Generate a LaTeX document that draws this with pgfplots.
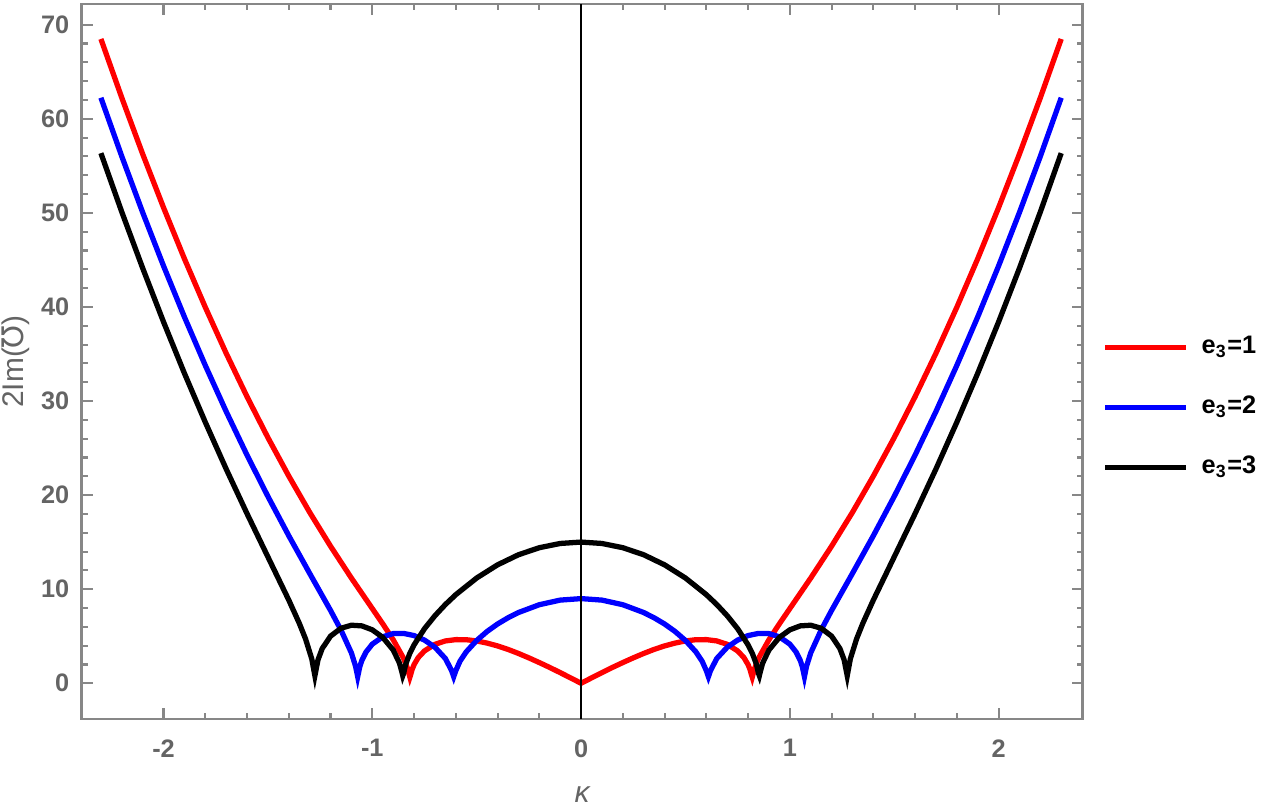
\documentclass[border=0pt]{standalone}
\usepackage{fontspec}
\setmainfont{Liberation Sans}
\newfontfamily\dejavu{DejaVu Sans}
\usepackage{pgfplots}
\usepackage{pgfplotstable}
\pgfplotsset{compat=1.18}
\definecolor{framegray}{RGB}{135,135,135}
\definecolor{labelgray}{RGB}{100,100,100}

% e3 = 1
\pgfplotstableread{
k v
-2.3 68.49
-2.2 62.24
-2.1 56.26
-2.0 50.56
-1.9 45.13
-1.8 39.97
-1.7 35.08
-1.6 30.46
-1.5 26.11
-1.4 22.02
-1.3 18.17
-1.2 14.57
-1.1 11.18
-1.0 7.94
-0.95 6.32
-0.9 4.63
-0.85 2.65
-0.83 1.50
-0.825 1.06
-0.82 0.65
-0.815 1.00
-0.81 1.42
-0.8 1.98
-0.78 2.73
-0.75 3.44
-0.7 4.14
-0.65 4.50
-0.6 4.64
-0.55 4.63
-0.5 4.50
-0.45 4.27
-0.4 3.97
-0.35 3.60
-0.3 3.17
-0.25 2.70
-0.2 2.20
-0.15 1.68
-0.1 1.13
-0.05 0.57
0 0
0.05 0.57
0.1 1.13
0.15 1.68
0.2 2.20
0.25 2.70
0.3 3.17
0.35 3.60
0.4 3.97
0.45 4.27
0.5 4.50
0.55 4.63
0.6 4.64
0.65 4.50
0.7 4.14
0.75 3.44
0.78 2.73
0.8 1.98
0.81 1.42
0.815 1.00
0.82 0.65
0.825 1.06
0.83 1.50
0.85 2.65
0.9 4.63
0.95 6.32
1.0 7.94
1.1 11.18
1.2 14.57
1.3 18.17
1.4 22.02
1.5 26.11
1.6 30.46
1.7 35.08
1.8 39.97
1.9 45.13
2.0 50.56
2.1 56.26
2.2 62.24
2.3 68.49
}\eone

% e3 = 2
\pgfplotstableread{
k v
-2.3 62.24
-2.2 56.01
-2.1 50.05
-2.0 44.36
-1.9 38.94
-1.8 33.79
-1.7 28.89
-1.6 24.25
-1.5 19.86
-1.4 15.68
-1.3 11.68
-1.2 7.74
-1.15 5.66
-1.1 3.22
-1.08 1.80
-1.07 0.70
-1.06 1.75
-1.05 2.43
-1.03 3.32
-1.0 4.16
-0.95 4.94
-0.9 5.28
-0.85 5.30
-0.8 5.07
-0.75 4.59
-0.7 3.83
-0.65 2.63
-0.62 1.34
-0.61 0.70
-0.6 1.34
-0.58 2.34
-0.55 3.34
-0.5 4.55
-0.45 5.51
-0.4 6.30
-0.35 6.96
-0.3 7.52
-0.2 8.35
-0.1 8.84
0 9.00
0.1 8.84
0.2 8.35
0.3 7.52
0.35 6.96
0.4 6.30
0.45 5.51
0.5 4.55
0.55 3.34
0.58 2.34
0.6 1.34
0.61 0.70
0.62 1.34
0.65 2.63
0.7 3.83
0.75 4.59
0.8 5.07
0.85 5.30
0.9 5.28
0.95 4.94
1.0 4.16
1.03 3.32
1.05 2.43
1.06 1.75
1.07 0.70
1.08 1.80
1.1 3.22
1.15 5.66
1.2 7.74
1.3 11.68
1.4 15.68
1.5 19.86
1.6 24.25
1.7 28.89
1.8 33.79
1.9 38.94
2.0 44.36
2.1 50.05
2.2 56.01
2.3 62.24
}\etwo

% e3 = 3
\pgfplotstableread{
k v
-2.3 56.35
-2.2 50.10
-2.1 44.13
-2.0 38.41
-1.9 32.95
-1.8 27.75
-1.7 22.78
-1.6 18.03
-1.5 13.43
-1.4 8.84
-1.35 6.39
-1.32 4.73
-1.29 2.60
-1.275 0.80
-1.26 2.50
-1.24 3.69
-1.2 5.01
-1.15 5.85
-1.1 6.17
-1.05 6.10
-1.0 5.68
-0.95 4.88
-0.9 3.54
-0.87 2.15
-0.86 1.34
-0.854 0.80
-0.85 1.04
-0.84 2.02
-0.82 3.20
-0.8 4.08
-0.75 5.80
-0.7 7.18
-0.65 8.37
-0.6 9.42
-0.5 11.19
-0.4 12.59
-0.3 13.66
-0.2 14.41
-0.1 14.86
0 15.01
0.1 14.86
0.2 14.41
0.3 13.66
0.4 12.59
0.5 11.19
0.6 9.42
0.65 8.37
0.7 7.18
0.75 5.80
0.8 4.08
0.82 3.20
0.84 2.02
0.85 1.04
0.854 0.80
0.86 1.34
0.87 2.15
0.9 3.54
0.95 4.88
1.0 5.68
1.05 6.10
1.1 6.17
1.15 5.85
1.2 5.01
1.24 3.69
1.26 2.50
1.275 0.80
1.29 2.60
1.32 4.73
1.35 6.39
1.4 8.84
1.5 13.43
1.6 18.03
1.7 22.78
1.8 27.75
1.9 32.95
2.0 38.41
2.1 44.13
2.2 50.10
2.3 56.35
}\ethree

\begin{document}
\begin{tikzpicture}
  \path[use as bounding box] (-0.817,-0.88) rectangle (11.833,7.19);
  \begin{axis}[
    at={(0,0)}, anchor=south west,
    scale only axis, width=10.01cm, height=7.15cm,
    xmin=-2.392, xmax=2.403, ymin=-3.8, ymax=72.2,
    xtick={-2,-1,0,1,2}, minor x tick num=4,
    ytick={0,10,...,70}, minor y tick num=4,
    tick align=inside,
    major tick length=1.1mm, minor tick length=0.6mm,
    axis line style={framegray, line width=0.8pt},
    tick style={framegray, line width=0.6pt},
    /pgf/number format/assume math mode=true,
    ticklabel style={font=\fontsize{7.2}{8}\selectfont\bfseries, text=labelgray},
    xticklabel style={yshift=-0.8mm},
    xlabel={\itshape κ},
    ylabel={2Im({\dejavu Ʊ})},
    label style={font=\fontsize{8.5}{9}\selectfont, text=labelgray},
    xlabel style={at={(axis description cs:0.5,-0.106)}, anchor=center},
    ylabel style={at={(axis description cs:-0.066,0.5)}, anchor=center},
    legend style={at={(rel axis cs:1.10,0.436)}, anchor=center,
      draw=none, fill=none, row sep=2.3mm,
      font=\fontsize{7.2}{8}\selectfont\bfseries},
    legend cell align=left,
    /tikz/every odd column/.append style={column sep=0.6mm},
    legend image code/.code={\draw[#1] (0cm,0cm) -- (0.81cm,0cm);},
  ]
    \addplot[red, line width=1.5pt] table[x=k, y=v] {\eone};
    \addlegendentry{e\textsubscript{3}=1}
    \addplot[blue, line width=1.5pt] table[x=k, y=v] {\etwo};
    \addlegendentry{e\textsubscript{3}=2}
    \addplot[black, line width=1.5pt] table[x=k, y=v] {\ethree};
    \addlegendentry{e\textsubscript{3}=3}
    \addplot[black, line width=0.6pt, forget plot] coordinates {(0,-3.8) (0,72.2)};
  \end{axis}
\end{tikzpicture}
\end{document}
